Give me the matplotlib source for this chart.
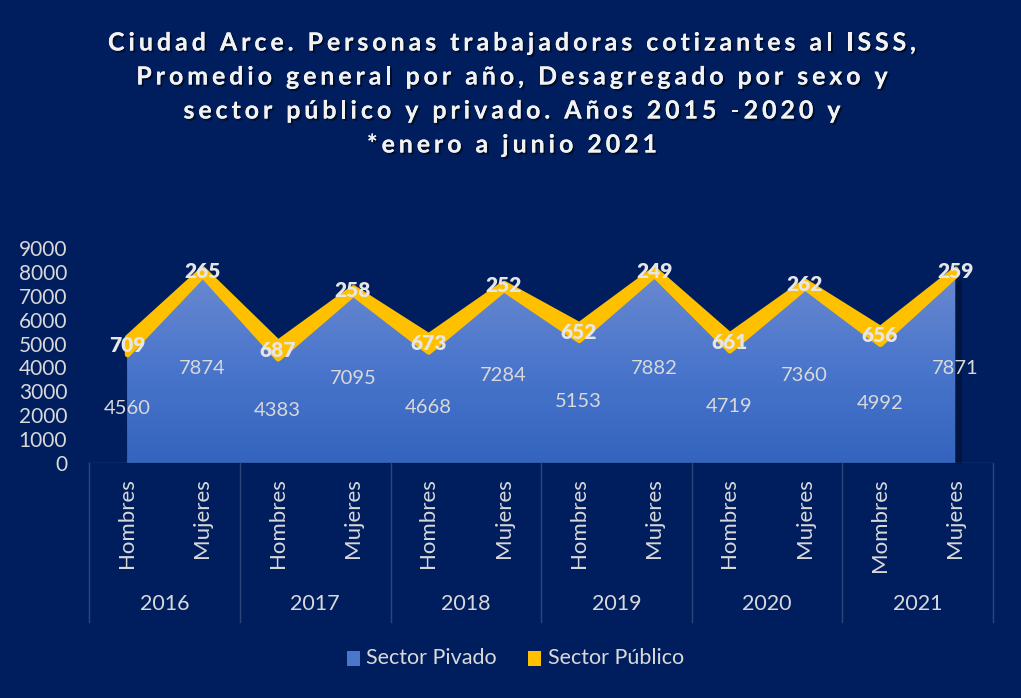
import numpy as np
import matplotlib
matplotlib.use('Agg')
import matplotlib.pyplot as plt
import matplotlib.patheffects as pe
from matplotlib.colors import LinearSegmentedColormap
from matplotlib.patches import Rectangle

# data
years = ['2016', '2017', '2018', '2019', '2020', '2021']
sexes = ['Hombres', 'Mujeres', 'Hombres', 'Mujeres', 'Hombres', 'Mujeres',
         'Hombres', 'Mujeres', 'Hombres', 'Mujeres', 'Mombres', 'Mujeres']
privado = [4560, 7874, 4383, 7095, 4668, 7284, 5153, 7882, 4719, 7360, 4992, 7871]
publico = [709, 265, 687, 258, 673, 252, 652, 249, 661, 262, 656, 259]
title_lines = ['Ciudad Arce. Personas trabajadoras cotizantes al ISSS,',
               'Promedio general por año, Desagregado por sexo y',
               'sector público y privado. Años 2015 -2020 y',
               '*enero a junio 2021']

BG = '#001E5E'
TXT = '#D9D9D9'
YEL = '#FFC000'
plt.rcParams['font.family'] = ['Lato', 'DejaVu Sans']
W, H = 1021, 698

fig = plt.figure(figsize=(W / 100, H / 100), dpi=100, facecolor=BG)
ax = fig.add_axes([0.0876, 0.3367, 0.8849, 0.308])
ax.set_facecolor(BG)

x = np.arange(len(privado))
priv = np.array(privado, float)
tot = priv + np.array(publico, float)

# shadow, then gradient-filled private area
ax.fill_between(x + 0.08, 0, priv - 80, color='#00153f', zorder=1, lw=0)
poly = ax.fill_between(x, 0, priv, facecolor='none', lw=0, zorder=2)
cmap = LinearSegmentedColormap.from_list('g', ['#3464BE', '#4A76CC', '#6C8AD0'])
grad = np.linspace(0, 1, 256).reshape(-1, 1)
im = ax.imshow(grad, cmap=cmap, aspect='auto', origin='lower',
               extent=[-0.5, 11.5, 0, 8200], zorder=2)
im.set_clip_path(poly.get_paths()[0], transform=ax.transData)
ax.fill_between(x, priv, tot, color=YEL, lw=4, edgecolor=YEL, zorder=3)

# data labels
for i in x:
    ax.text(i, priv[i] / 2, str(privado[i]), ha='center', va='center',
            color=TXT, fontsize=14.5, zorder=5)
    ax.text(i, priv[i] + publico[i] / 2, str(publico[i]), ha='center', va='center',
            color='#E6E6E6', fontsize=15, fontweight='heavy', zorder=5)

ax.set_xlim(-0.5, 11.5)
ax.set_ylim(0, 9000)
ax.set_yticks(range(0, 9001, 1000))
ax.tick_params(axis='y', length=0, labelsize=15, labelcolor=TXT, pad=16)
ax.set_xticks([])
for s in ax.spines.values():
    s.set_visible(False)

# multi-level category axis
lc = '#2E4578'
ax.axhline(0, color=lc, lw=1, zorder=4)
for b in range(0, 13, 2):
    ax.plot([b - 0.5, b - 0.5], [0, -6650], color=lc, lw=1, clip_on=False)
for i, s in enumerate(sexes):
    ax.text(i, -650, s, rotation=90, ha='center', va='top', color=TXT, fontsize=16)
for j, y in enumerate(years):
    ax.text(2 * j + 0.5, -5900, y, ha='center', va='center', color=TXT, fontsize=15.5)

# legend
fig.patches.append(Rectangle((347 / W, 1 - 666 / H), 13 / W, 15 / H,
                             transform=fig.transFigure, facecolor='#4A76CC', figure=fig))
fig.text(366 / W, 1 - 658 / H, 'Sector Pivado', color=TXT, fontsize=15.5, va='center')
fig.patches.append(Rectangle((528 / W, 1 - 666 / H), 13 / W, 15 / H,
                             transform=fig.transFigure, facecolor=YEL, figure=fig))
fig.text(548 / W, 1 - 658 / H, 'Sector Público', color=TXT, fontsize=15.5, va='center')

# letter-spaced title
r = fig.canvas.get_renderer()
track = 3.9
shadow = [pe.withSimplePatchShadow(offset=(1.5, -1.5), shadow_rgbFace='black', alpha=0.5), pe.Normal()]
tkw = dict(color='#F2F2F2', fontsize=18, fontweight='bold', va='center', path_effects=shadow)
for k, line in enumerate(title_lines):
    yc = 1 - (43 + 34 * k) / H
    probe = fig.text(0, 0, line, **tkw)
    full = probe.get_window_extent(r).width
    probe.remove()
    total = full + track * (len(line) - 1)
    x0 = 512 - total / 2
    for n, ch in enumerate(line):
        if ch == ' ':
            continue
        if n:
            p = fig.text(0, 0, line[:n], **tkw)
            off = p.get_window_extent(r).width
            p.remove()
            # trailing spaces are not measured by extent; add their advance
            off += 0
        else:
            off = 0
        fig.text((x0 + off + track * n) / W, yc, ch, ha='left', **tkw)

fig.savefig('out.png', dpi=100, facecolor=BG)
